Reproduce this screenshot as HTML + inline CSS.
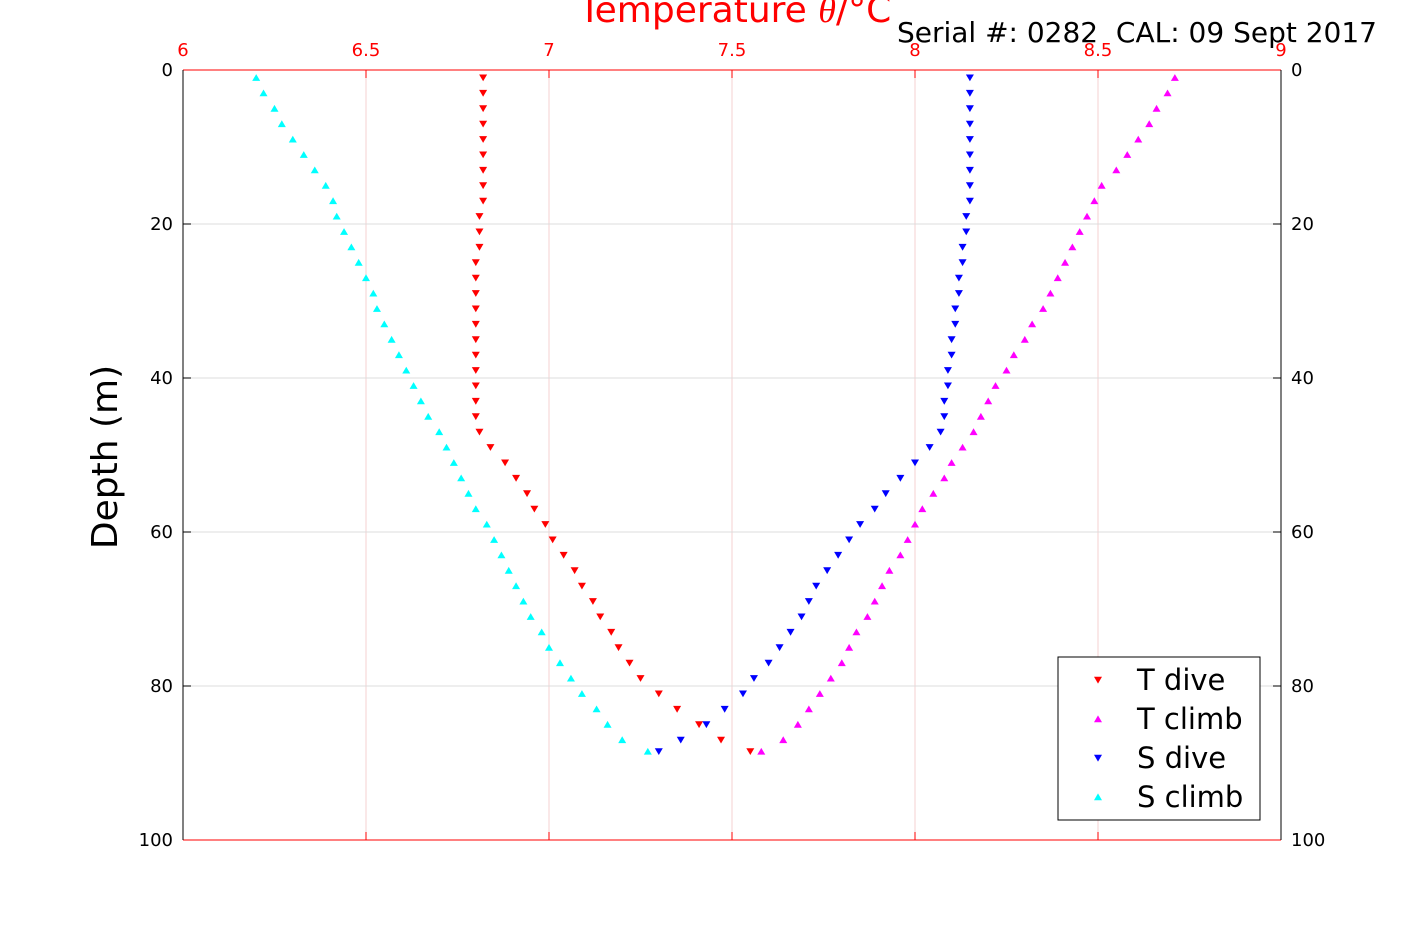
<!DOCTYPE html>
<html><head><meta charset="utf-8"><style>
body{margin:0;background:#fff;}
svg text{font-family:"DejaVu Sans","Liberation Sans",sans-serif;}
</style></head><body>
<svg id="chart" width="1417" height="945" xmlns="http://www.w3.org/2000/svg">
<g id="grid"></g>
<g id="axes"></g>
<g id="marks"></g>
<text x="735" y="22" fill="#ff0000" font-size="36" text-anchor="middle">Temperature <tspan font-style="italic" font-family="Liberation Serif,serif">θ</tspan>/°C</text>
<text x="1377" y="42" fill="#000" font-size="28" text-anchor="end" style="white-space:pre" xml:space="preserve">Serial #: 0282  CAL: 09 Sept 2017</text>
<text transform="translate(117,457) rotate(-90)" font-size="36" text-anchor="middle">Depth (m)</text>
<g>
<rect x="1058" y="657" width="202" height="163" fill="#fff" stroke="#000" stroke-width="1"/>
<g id="legend-items"></g>
</g>
</svg>
<script>
const depths=[1,3,5,7,9,11,13,15,17,19,21,23,25,27,29,31,33,35,37,39,41,43,45,47,49,51,53,55,57,59,61,63,65,67,69,71,73,75,77,79,81,83,85,87,88.5];
const tDive=[6.82,6.82,6.82,6.82,6.82,6.82,6.82,6.82,6.82,6.81,6.81,6.81,6.80,6.80,6.80,6.80,6.80,6.80,6.80,6.80,6.80,6.80,6.80,6.81,6.84,6.88,6.91,6.94,6.96,6.99,7.01,7.04,7.07,7.09,7.12,7.14,7.17,7.19,7.22,7.25,7.30,7.35,7.41,7.47,7.55];
const tClimb=[8.71,8.69,8.66,8.64,8.61,8.58,8.55,8.51,8.49,8.47,8.45,8.43,8.41,8.39,8.37,8.35,8.32,8.30,8.27,8.25,8.22,8.20,8.18,8.16,8.13,8.10,8.08,8.05,8.02,8.00,7.98,7.96,7.93,7.91,7.89,7.87,7.84,7.82,7.80,7.77,7.74,7.71,7.68,7.64,7.58];
const sDive=[8.15,8.15,8.15,8.15,8.15,8.15,8.15,8.15,8.15,8.14,8.14,8.13,8.13,8.12,8.12,8.11,8.11,8.10,8.10,8.09,8.09,8.08,8.08,8.07,8.04,8.00,7.96,7.92,7.89,7.85,7.82,7.79,7.76,7.73,7.71,7.69,7.66,7.63,7.60,7.56,7.53,7.48,7.43,7.36,7.30];
const sClimb=[6.20,6.22,6.25,6.27,6.30,6.33,6.36,6.39,6.41,6.42,6.44,6.46,6.48,6.50,6.52,6.53,6.55,6.57,6.59,6.61,6.63,6.65,6.67,6.70,6.72,6.74,6.76,6.78,6.80,6.83,6.85,6.87,6.89,6.91,6.93,6.95,6.98,7.00,7.03,7.06,7.09,7.13,7.16,7.20,7.27];
const xTicks=[6,6.5,7,7.5,8,8.5,9];
const yTicks=[0,20,40,60,80,100];
const seriesNames=["T dive","T climb","S dive","S climb"];
const NS="http://www.w3.org/2000/svg";
const X0=183,X1=1281,Y0=70,Y1=840;
const xs=v=>X0+(v-6)/3*(X1-X0);
const ys=d=>Y0+d/100*(Y1-Y0);
function mk(tag,attrs,parent){const e=document.createElementNS(NS,tag);for(const k in attrs)e.setAttribute(k,attrs[k]);parent.appendChild(e);return e;}
const grid=document.getElementById('grid'),axes=document.getElementById('axes'),marks=document.getElementById('marks');
xTicks.forEach(t=>{const x=xs(t);
 const g=mk('line',{x1:x,x2:x,y1:Y0,y2:Y1,stroke:'#f5d0d0','stroke-width':1},grid);
 
 mk('line',{x1:x,x2:x,y1:Y0,y2:Y0+8,stroke:'#f00'},axes);
 mk('line',{x1:x,x2:x,y1:Y1,y2:Y1-8,stroke:'#f00'},axes);
 const tx=mk('text',{x:x,y:56,fill:'#f00','font-size':18,'text-anchor':'middle'},axes);tx.textContent=String(t);
 });
yTicks.forEach(t=>{const y=ys(t);
 const g=mk('line',{x1:X0,x2:X1,y1:y,y2:y,stroke:'#dcdcdc','stroke-width':1},grid);
 
 mk('line',{x1:X0,x2:X0+8,y1:y,y2:y,stroke:'#000'},axes);
 mk('line',{x1:X1,x2:X1-8,y1:y,y2:y,stroke:'#000'},axes);
 const a=mk('text',{x:X0-10,y:y+6,'font-size':18,'text-anchor':'end'},axes);a.textContent=String(t);
 
 const b=mk('text',{x:X1+10,y:y+6,'font-size':18,'text-anchor':'start'},axes);b.textContent=String(t);
 });
mk('line',{x1:X0,x2:X1,y1:Y0,y2:Y0,stroke:'#f00'},axes);
mk('line',{x1:X0,x2:X1,y1:Y1,y2:Y1,stroke:'#f00'},axes);
mk('line',{x1:X0,x2:X0,y1:Y0,y2:Y1,stroke:'#000'},axes);
mk('line',{x1:X1,x2:X1,y1:Y0,y2:Y1,stroke:'#000'},axes);
function tri(x,y,down,s){return down?`${x-s},${y-s*0.8} ${x+s},${y-s*0.8} ${x},${y+s*0.9}`:`${x-s},${y+s*0.8} ${x+s},${y+s*0.8} ${x},${y-s*0.9}`;}
const series=[[tDive,'#ff0000',true,'t-dive-point'],[tClimb,'#ff00ff',false,'t-climb-point'],[sDive,'#0000ff',true,'s-dive-point'],[sClimb,'#00ffff',false,'s-climb-point']];
series.forEach(([vals,col,down,nm])=>{vals.forEach((v,i)=>{
 const p=mk('polygon',{points:tri(xs(v),ys(depths[i]),down,4),fill:col},marks);
 });});
const li=document.getElementById('legend-items');
series.forEach(([vals,col,down],i)=>{const y=680+i*39;
 mk('polygon',{points:tri(1098,y,down,4),fill:col},li);
 const t=mk('text',{x:1137,y:y+10,'font-size':29},li);t.textContent=seriesNames[i];
 });
</script>
</body></html>
